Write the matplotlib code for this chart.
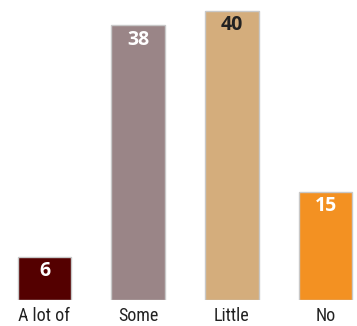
import matplotlib
matplotlib.use("Agg")
import matplotlib.pyplot as plt

categories = ["A lot of", "Some", "Little", "No"]
values = [6, 38, 40, 15]
colors = ["#540000", "#9a8587", "#d4ad7c", "#f39122"]
label_colors = ["white", "white", "#222222", "white"]

narrow = ["Roboto Condensed", "Open Sans Condensed", "Archivo Narrow", "DejaVu Sans"]

fig = plt.figure(figsize=(3.57, 3.26), dpi=100)
ax = fig.add_axes([0, 26/326, 1, 300/326])
x = list(range(len(categories)))
ax.bar(x, values, width=0.57, color=colors, edgecolor="#c8c8c8", linewidth=1.0)
for xi, v, lc in zip(x, values, label_colors):
    ax.text(xi, v - 0.6, str(v), ha="center", va="top", color=lc,
            fontsize=14, fontweight="bold", family="Open Sans")
ax.set_xlim(-0.475, 3.336)
ax.set_ylim(0, 300/7.225)
ax.set_xticks(x)
ax.set_xticklabels(categories, fontsize=13, family=narrow, color="#222222")
ax.tick_params(axis="x", length=0, pad=5)
ax.set_yticks([])
for s in ax.spines.values():
    s.set_visible(False)
fig.savefig("out.png", dpi=100)
